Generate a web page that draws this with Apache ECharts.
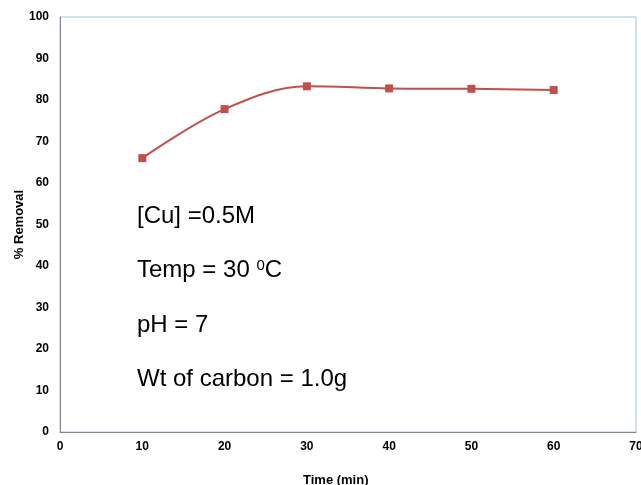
<!DOCTYPE html>
<html>
<head>
<meta charset="utf-8">
<script src="https://cdn.jsdelivr.net/npm/echarts@6/dist/echarts.min.js"></script>
<style>
  html, body { margin: 0; padding: 0; background: #fff; }
  #chart { width: 641px; height: 485px; }
</style>
</head>
<body>
<div id="chart"></div>
<script>
// Contact time (min) vs copper removal (%)
const timeMin = [10, 20, 30, 40, 50, 60];
const removalPct = [66.0, 77.8, 83.3, 82.8, 82.7, 82.4];
const xTicks = [0, 10, 20, 30, 40, 50, 60, 70];
const yTicks = [0, 10, 20, 30, 40, 50, 60, 70, 80, 90, 100];
const conditions = ['[Cu] =0.5M', 'Temp = 30 {sup|0}C', 'pH = 7', 'Wt of carbon = 1.0g'];

const FONT = '"Liberation Sans", Arial, sans-serif';
const chart = echarts.init(document.getElementById('chart'), null, { renderer: 'canvas' });

const labelStyle = { fontFamily: FONT, fontWeight: 'bold', fontSize: 12, color: '#000' };

chart.setOption({
  animation: false,
  backgroundColor: '#fff',
  grid: {
    left: 60, top: 17, right: 5, bottom: 53,
    outerBoundsMode: 'none',
    containLabel: false,
    show: true, borderColor: '#a7c0de', borderWidth: 1
  },
  xAxis: {
    type: 'value',
    min: xTicks[0], max: xTicks[xTicks.length - 1], interval: 10,
    axisLine: { show: true, lineStyle: { color: '#868686', width: 1 } },
    axisTick: { show: false },
    splitLine: { show: false },
    axisLabel: Object.assign({ margin: 9 }, labelStyle)
  },
  yAxis: {
    type: 'value',
    min: yTicks[0], max: yTicks[yTicks.length - 1], interval: 10,
    name: '% Removal',
    nameLocation: 'middle',
    nameGap: 34,
    nameMoveOverlap: false,
    nameTextStyle: { fontFamily: FONT, fontWeight: 'bold', fontSize: 13, color: '#000' },
    axisLine: { show: true, lineStyle: { color: '#868686', width: 1 } },
    axisTick: { show: false },
    splitLine: { show: false },
    axisLabel: Object.assign({ margin: 11 }, labelStyle)
  },
  series: [{
    type: 'line',
    data: timeMin.map((t, i) => [t, removalPct[i]]),
    smooth: 0.35,
    symbol: 'rect',
    symbolSize: 8,
    lineStyle: { color: '#c0504d', width: 2 },
    itemStyle: { color: '#c0504d' }
  }],
  graphic: [
    {
      type: 'text', left: 303, top: 474,
      style: { text: 'Time (min)', fontFamily: FONT, fontWeight: 'bold', fontSize: 13, fill: '#000' }
    }
  ].concat(conditions.map((line, i) => ({
    type: 'text',
    x: 137,
    y: 228 + i * 54.5,
    style: {
      text: line,
      fontFamily: FONT,
      fontSize: 24,
      fill: '#000',
      verticalAlign: 'bottom',
      rich: {
        sup: { fontFamily: FONT, fontSize: 15, fill: '#000', verticalAlign: 'top', padding: [0, 0, 9, 0] }
      }
    }
  })))
});
</script>
</body>
</html>
